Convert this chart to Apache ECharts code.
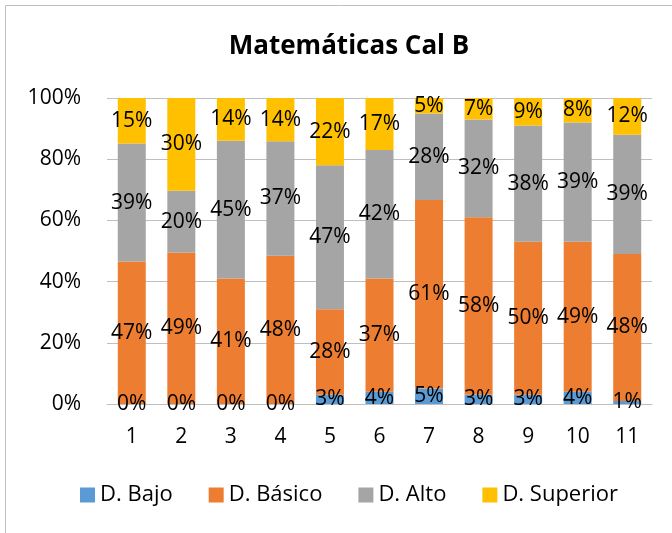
<!DOCTYPE html>
<html>
<head>
<meta charset="utf-8">
<script src="https://cdn.jsdelivr.net/npm/echarts@6/dist/echarts.min.js"></script>
<style>
  html, body { margin: 0; padding: 0; background: #fff; }
  #chart { width: 672px; height: 533px; }
</style>
</head>
<body>
<div id="chart"></div>
<script>
// categories and values (percent, as printed on the bars)
var categories = ['1', '2', '3', '4', '5', '6', '7', '8', '9', '10', '11'];
var bajo     = [0, 0, 0, 0, 3, 4, 5, 3, 3, 4, 1];
var basico   = [47, 49, 41, 48, 28, 37, 61, 58, 50, 49, 48];
var alto     = [39, 20, 45, 37, 47, 42, 28, 32, 38, 39, 39];
var superior = [15, 30, 14, 14, 22, 17, 5, 7, 9, 8, 12];
var yTicks = ['0%', '20%', '40%', '60%', '80%', '100%'];

var FONT = 'Open Sans';
var FS = 21;
var groups = [bajo, basico, alto, superior];

// 100% stacked: each column is scaled to its own total
function share(arr) {
  return arr.map(function (v, i) {
    var tot = 0;
    groups.forEach(function (g) { tot += g[i]; });
    return { value: v / tot * 100, raw: v };
  });
}

function mk(name, arr, color) {
  return {
    name: name,
    type: 'bar',
    stack: 'all',
    barWidth: 28,
    data: share(arr),
    itemStyle: { color: color },
    label: {
      show: true,
      position: 'inside',
      color: '#000',
      fontFamily: FONT,
      fontSize: FS,
      formatter: function (p) { return p.data.raw + '%'; }
    }
  };
}

var chart = echarts.init(document.getElementById('chart'));
chart.setOption({
  animation: false,
  title: {
    text: 'Matemáticas Cal B',
    left: 344,
    top: 29,
    textAlign: 'center',
    textStyle: { fontFamily: FONT, fontSize: 26, fontWeight: 'bold', color: '#000' }
  },
  graphic: [{
    type: 'rect',
    shape: { x: 5.5, y: 5.5, width: 700, height: 600 },
    style: { fill: 'none', stroke: '#bfbfbf', lineWidth: 1 },
    silent: true
  }],
  legend: {
    bottom: 22,
    left: 75,
    itemWidth: 15,
    itemHeight: 15,
    itemGap: 36,
    icon: 'rect',
    textStyle: { fontFamily: FONT, fontSize: 22, color: '#000' },
    data: ['D. Bajo', 'D. Básico', 'D. Alto', 'D. Superior']
  },
  grid: { left: 107, right: 20, top: 98, bottom: 129 },
  xAxis: {
    type: 'category',
    data: categories,
    axisLine: { lineStyle: { color: '#bfbfbf' } },
    axisTick: { show: false },
    axisLabel: { color: '#000', fontFamily: FONT, fontSize: FS, margin: 23 }
  },
  yAxis: {
    type: 'value',
    min: 0,
    max: 100,
    interval: 20,
    axisLine: { show: false },
    axisTick: { show: false },
    splitLine: { lineStyle: { color: '#bfbfbf' } },
    axisLabel: {
      color: '#000', fontFamily: FONT, fontSize: FS, margin: 26,
      formatter: function (v) { return yTicks[Math.round(v / 20)]; }
    }
  },
  series: [
    mk('D. Bajo', bajo, '#5B9BD5'),
    mk('D. Básico', basico, '#ED7D31'),
    mk('D. Alto', alto, '#A5A5A5'),
    mk('D. Superior', superior, '#FFC000')
  ]
});
</script>
</body>
</html>
